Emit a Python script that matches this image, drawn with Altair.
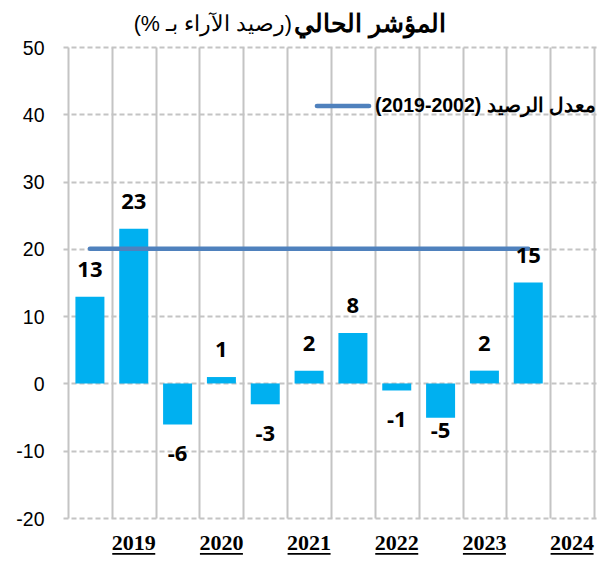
import altair as alt
import pandas as pd

# ---- data ----
values = [12.9, 23.0, -6.1, 0.95, -3.1, 1.9, 7.5, -1.05, -5.1, 1.9, 15.0]   # bars in slots 1..11
n_slots = 12
years = ["2019", "2020", "2021", "2022", "2023", "2024"]                   # under slots 2,4,...,12
avg_value = 20
avg_from_slot, avg_to_slot = 1, 11

title_bold = "المؤشر الحالي"
title_reg = "(رصيد الآراء بـ %)"
legend_label = "معدل الرصيد (2002-2019)"

RLE, PDF = "\u202b", "\u202c"

bars_df = pd.DataFrame({"slot": list(range(1, len(values) + 1)), "v": values})
bars_df["pos"] = bars_df["slot"] - 0.5
years_df = pd.DataFrame({"year": years, "pos": [2 * (i + 1) - 0.5 for i in range(len(years))]})
avg_df = pd.DataFrame({"pos": [avg_from_slot - 0.5], "x1": [avg_to_slot - 0.5], "v": [avg_value]})
one = pd.DataFrame({"k": [0]})

W, H = 536, 471
xscale = alt.Scale(domain=[0, n_slots], nice=False, zero=False)
yscale = alt.Scale(domain=[-20, 50], nice=False)
GRID = "#C4C4C4"

x_axis = alt.Axis(values=list(range(n_slots + 1)), grid=True, gridColor=GRID, gridWidth=2,
                  labels=False, ticks=False, domain=False, title=None)
y_axis = alt.Axis(values=list(range(-20, 51, 10)), grid=True, gridColor=GRID, gridWidth=2,
                  gridDash=[5, 3], ticks=False, domain=False, title=None,
                  labelFont="Liberation Sans", labelFontSize=19.5, labelColor="#000000",
                  labelPadding=19, labelOffset=1, labelExpr="'' + datum.value")

X = lambda f="pos": alt.X(f"{f}:Q", scale=xscale, axis=x_axis)
Y = lambda f="v": alt.Y(f"{f}:Q", scale=yscale, axis=y_axis)

bars = alt.Chart(bars_df).mark_bar(color="#00B0F0", width=29).encode(x=X(), y=Y())

avg = alt.Chart(avg_df).mark_rule(color="#4F81BD", strokeWidth=4.5, strokeCap="round").encode(
    x=X(), x2="x1:Q", y=Y(),
)

lab_base = alt.Chart(bars_df).transform_calculate(lbl="'' + round(datum.v)")
lab_kw = dict(font="Open Sans", fontWeight="bold", fontSize=22, color="#000000", baseline="middle")
pos_labels = lab_base.transform_filter("datum.v >= 0").mark_text(dy=-27, **lab_kw).encode(
    x=X(), y=Y(), text="lbl:N")
neg_labels = lab_base.transform_filter("datum.v < 0 && datum.slot != 9").mark_text(dy=30, **lab_kw).encode(
    x=X(), y=Y(), text="lbl:N")
neg_labels2 = lab_base.transform_filter("datum.slot == 9").mark_text(dy=13, **lab_kw).encode(
    x=X(), y=Y(), text="lbl:N")

year_text = alt.Chart(years_df).mark_text(font="Liberation Serif", fontWeight="bold", fontSize=22,
                                           color="#000000", baseline="middle").encode(
    x=X(), y=alt.value(H + 25), text="year:N")
year_under = alt.Chart(years_df).mark_bar(color="#000000", width=43).encode(
    x=X(), y=alt.value(H + 35), y2=alt.value(H + 36.7))

t_bold = alt.Chart(one).mark_text(text=RLE + title_bold + PDF, font="Arial", fontWeight="bold",
                                  fontSize=25, color="#000000", align="left", baseline="middle").encode(
    x=alt.value(231), y=alt.value(-23))
t_reg = alt.Chart(one).mark_text(text=RLE + title_reg + PDF, font="Arial", fontSize=21.5,
                                 color="#000000", align="right", baseline="middle").encode(
    x=alt.value(229), y=alt.value(-22))

leg_line = alt.Chart(one).mark_rule(color="#4F81BD", strokeWidth=4.7, strokeCap="round").encode(
    x=alt.value(254), x2=alt.value(306), y=alt.value(59))
leg_text = alt.Chart(one).mark_text(text=RLE + legend_label + PDF, font="Arial", fontWeight="bold",
                                    fontSize=19.5, color="#000000", align="left", baseline="middle").encode(
    x=alt.value(312), y=alt.value(59))

chart = alt.layer(bars, avg, pos_labels, neg_labels, neg_labels2, year_text, year_under,
                  t_bold, t_reg, leg_line, leg_text).properties(
    width=W, height=H,
    autosize=alt.AutoSizeParams(type="none"),
    padding={"left": 55, "top": 39, "right": 0, "bottom": 45},
    background="#FFFFFF",
).configure_view(stroke=None)

chart.save("out.html", embed_options={"renderer": "svg", "actions": False})
